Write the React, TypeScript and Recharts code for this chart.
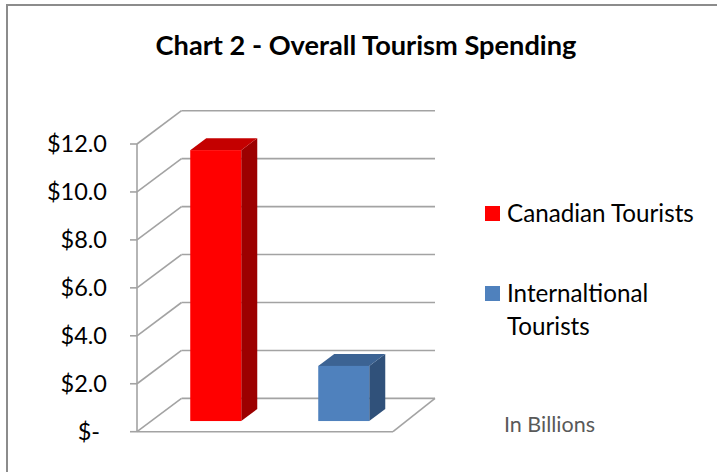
import React from "react";
import { BarChart, Bar, XAxis, YAxis, CartesianGrid, Cell } from "recharts";

// chart values
const categories = ["Canadian Tourists", "Internaltional Tourists"];
const legendLines = [["Canadian Tourists"], ["Internaltional", "Tourists"]];
const spending = [11.3, 2.3]; // billions
const yTicks = [0, 2, 4, 6, 8, 10, 12];

const data = categories.map((name, i) => ({ name, value: spending[i] }));

const W = 717;
const H = 472;
const FONT = "Lato, 'Open Sans', sans-serif";
const GRID = "#a3a3a3";

// fake 3D: offset of the back wall from the front plane
const DEPTH_X = 44.5;
const DEPTH_X_RIGHT = 42;
const DEPTH_Y = -33.3;
const BAR_FRONT = 0.32; // where the bar front sits in the depth
const BAR_DEPTH = 0.36;

const faces = [
  { front: "#ff0000", top: "#c40000", side: "#9c0000" },
  { front: "#4f81bd", top: "#3c6393", side: "#30517a" },
];

const Bar3D = (props: any) => {
  const { x, y, width, height, index } = props;
  const c = faces[index % faces.length];
  const fx = x + DEPTH_X * BAR_FRONT;
  const fy = y + DEPTH_Y * BAR_FRONT;
  const dx = DEPTH_X * BAR_DEPTH;
  const dy = DEPTH_Y * BAR_DEPTH;
  const top = `${fx},${fy} ${fx + width},${fy} ${fx + width + dx},${fy + dy} ${fx + dx},${fy + dy}`;
  const side = `${fx + width},${fy} ${fx + width + dx},${fy + dy} ${fx + width + dx},${fy + height + dy} ${fx + width},${fy + height}`;
  return (
    <g>
      <polygon points={side} fill={c.side} />
      <polygon points={top} fill={c.top} />
      <rect x={fx} y={fy} width={width} height={height} fill={c.front} />
    </g>
  );
};

// each horizontal grid line becomes a side-wall diagonal plus a back-wall line
const wallLine = (props: any) => {
  const { x1, y1, x2, index, y, height } = props;
  const bx = x1 + DEPTH_X;
  const by = y1 + DEPTH_Y;
  const isFloor =
    typeof y === "number" && typeof height === "number"
      ? Math.abs(y1 - (y + height)) < 1
      : index === 0;
  return (
    <g key={`wall-${index}`} stroke={GRID} strokeWidth={1.6} fill="none">
      <line x1={x1} y1={y1} x2={bx} y2={by} />
      <line x1={bx} y1={by} x2={x2 + DEPTH_X_RIGHT} y2={by} />
      {isFloor && (
        <>
          <line x1={x1} y1={y1} x2={x2} y2={y1} />
          <line x1={x2} y1={y1} x2={x2 + DEPTH_X_RIGHT} y2={by} />
        </>
      )}
    </g>
  );
};

const MoneyTick = (props: any) => {
  const { x, y, payload } = props;
  const v = payload.value;
  const label = v === 0 ? "$-" : `$${v.toFixed(1)}`;
  return (
    <text
      x={v === 0 ? x - 7 : x}
      y={y + 8}
      textAnchor="end"
      fontFamily={FONT}
      fontSize={23.5}
      fill="#000"
    >
      {label}
    </text>
  );
};

export default function App() {
  return (
    <div style={{ position: "absolute", left: 0, top: 0, width: W, height: H, background: "#fff" }}>
      <div
        style={{
          position: "absolute",
          left: 6,
          top: 4,
          right: 0,
          bottom: 0,
          borderTop: "2px solid #8c8c8c",
          borderLeft: "2px solid #8c8c8c",
        }}
      />
      <BarChart
        width={W}
        height={H}
        data={data}
        margin={{ top: 144, right: 324, bottom: 40.3, left: 0 }}
        barSize={51}
        style={{ position: "absolute", left: 0, top: 0 }}
      >
        <CartesianGrid vertical={false} horizontal={wallLine} />
        <XAxis dataKey="name" hide />
        <YAxis
          domain={[0, 12]}
          ticks={yTicks}
          width={137}
          tickSize={7}
          tickMargin={23}
          axisLine={{ stroke: GRID, strokeWidth: 1.6 }}
          tickLine={{ stroke: GRID, strokeWidth: 1.6 }}
          tick={<MoneyTick />}
        />
        <Bar dataKey="value" shape={<Bar3D />} isAnimationActive={false}>
          {data.map((d, i) => (
            <Cell key={d.name} fill={faces[i].front} />
          ))}
        </Bar>
      </BarChart>
      <svg
        width={W}
        height={H}
        style={{ position: "absolute", left: 0, top: 0, pointerEvents: "none" }}
      >
        <text x={366} y={55} textAnchor="middle" fontFamily={FONT} fontWeight={700} fontSize={27.2} fill="#000">
          Chart 2 - Overall Tourism Spending
        </text>
        {legendLines.map((lines, i) => {
          const baseY = i === 0 ? 222 : 302;
          return (
            <g key={categories[i]}>
              <rect x={485} y={baseY - 16} width={15} height={15} fill={faces[i].front} />
              {lines.map((t, j) => (
                <text key={t} x={507} y={baseY + j * 33} fontFamily={FONT} fontSize={24.2} fill="#000">
                  {t}
                </text>
              ))}
            </g>
          );
        })}
        <text x={504} y={432} fontFamily={FONT} fontSize={21.5} fill="#595959">
          In Billions
        </text>
      </svg>
    </div>
  );
}
